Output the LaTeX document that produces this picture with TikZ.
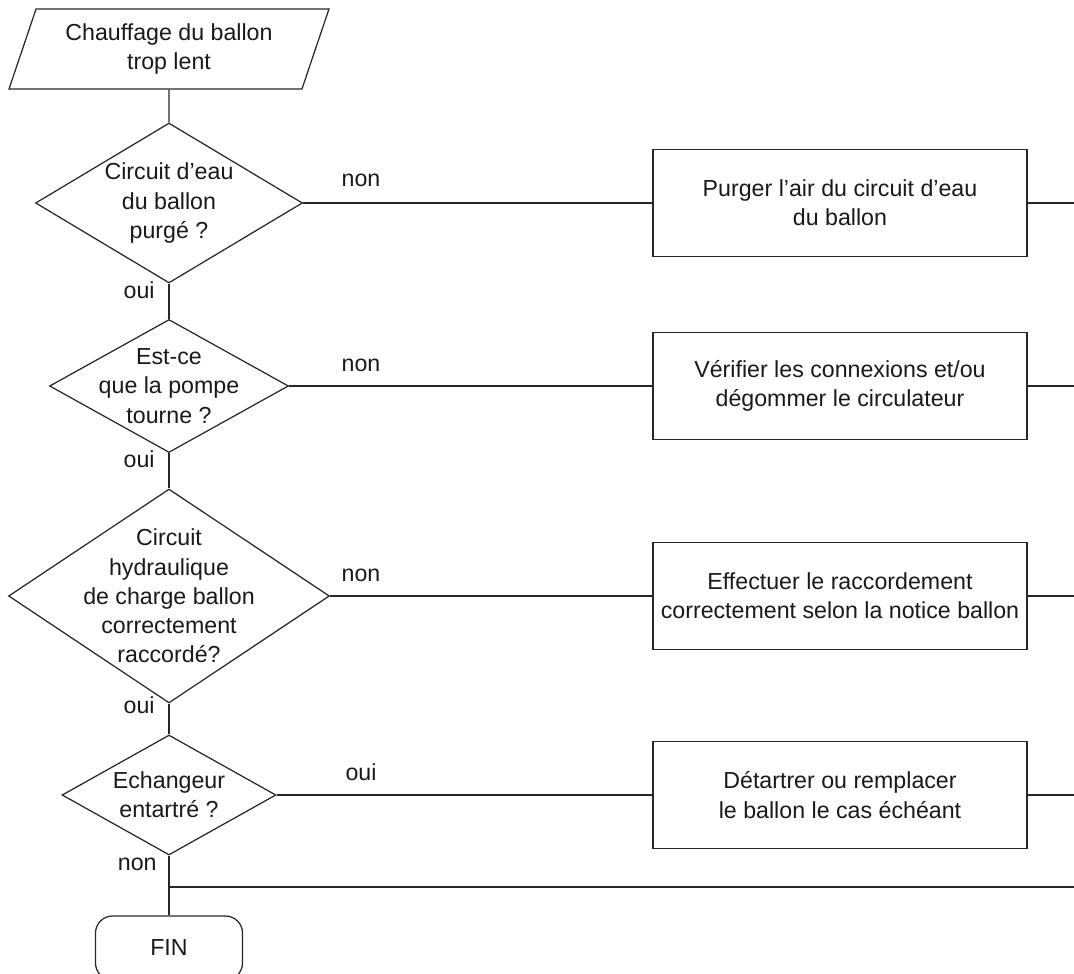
\documentclass[tikz,border=0pt]{standalone}
\usepackage{fontspec}
\setmainfont{Liberation Sans}
\usepackage{tikz}
\usetikzlibrary{shapes.geometric, positioning}

\begin{document}
\begin{tikzpicture}[
  x=0.02cm, y=-0.02cm,
  every node/.style={font=\fontsize{13.2}{16.6}\selectfont, text=black!90},
  io/.style={trapezium, trapezium left angle=62, trapezium right angle=118, trapezium stretches body, draw=black!85, line width=0.7pt, minimum width=6.4cm, minimum height=1.6cm, inner sep=0pt, align=center},
  decision/.style={diamond, draw=black!85, line width=0.7pt, inner sep=-20pt, align=center},
  action/.style={rectangle, draw=black!85, line width=0.7pt, minimum width=7.48cm, minimum height=2.14cm, inner xsep=0pt, align=center},
  terminal/.style={rectangle, rounded corners=0.34cm, draw=black!85, line width=0.7pt, minimum width=2.94cm, minimum height=1.28cm},
  lbl/.style={anchor=base, inner sep=0pt},
  wire/.style={draw=black!85, line width=0.7pt}
]
\useasboundingbox (0,0) rectangle (1074,973);

% Main column (questions)
\node[io] (start) at (169,49) {Chauffage du ballon\\trop lent};
\node[decision, minimum width=5.34cm, minimum height=3.2cm] (q1) at (169,203) {\\[-7pt]Circuit d’eau\\du ballon\\purgé ?};
\node[decision, minimum width=4.78cm, minimum height=2.66cm] (q2) at (169,386) {Est-ce\\que la pompe\\tourne ?};
\node[decision, minimum width=6.42cm, minimum height=4.28cm] (q3) at (169,596) {Circuit\\hydraulique\\de charge ballon\\correctement\\raccordé?};
\node[decision, minimum width=4.28cm, minimum height=2.4cm] (q4) at (169,795) {Echangeur\\entartré ?};
\node[terminal] (fin) at (169,948) {FIN};

% Right column (actions)
\node[action] (a1) at (840,203) {Purger l’air du circuit d’eau\\du ballon};
\node[action] (a2) at (840,386) {Vérifier les connexions et/ou\\dégommer le circulateur};
\node[action] (a3) at (840,596) {Effectuer le raccordement\\correctement selon la notice ballon};
\node[action] (a4) at (840,795) {Détartrer ou remplacer\\le ballon le cas échéant};

% Return lines leaving on the right
\coordinate (r1) at (1074,203);
\coordinate (r2) at (1074,386);
\coordinate (r3) at (1074,596);
\coordinate (r4) at (1074,795);
\coordinate (j) at (169,887);
\coordinate (jr) at (1074,887);

\draw[wire] (start) -- (q1);
\draw[wire] (q1) -- (q2);
\draw[wire] (q2) -- (q3);
\draw[wire] (q3) -- (q4);
\draw[wire] (q4) -- (fin);
\draw[wire] (j) -- (jr);

\draw[wire] (q1) -- (a1);
\draw[wire] (q2) -- (a2);
\draw[wire] (q3) -- (a3);
\draw[wire] (q4) -- (a4);
\draw[wire] (a1) -- (r1);
\draw[wire] (a2) -- (r2);
\draw[wire] (a3) -- (r3);
\draw[wire] (a4) -- (r4);

% Branch labels
\node[lbl] (n1) at (361,187) {non};
\node[lbl] (n2) at (361,371) {non};
\node[lbl] (n3) at (361,581) {non};
\node[lbl] (o4) at (361,780) {oui};
\node[lbl, anchor=base east] (o1) at (155,298) {oui};
\node[lbl, anchor=base east] (o2) at (155,467) {oui};
\node[lbl, anchor=base east] (o3) at (155,713) {oui};
\node[lbl, anchor=base east] (n4) at (157,870) {non};
\end{tikzpicture}
\end{document}
